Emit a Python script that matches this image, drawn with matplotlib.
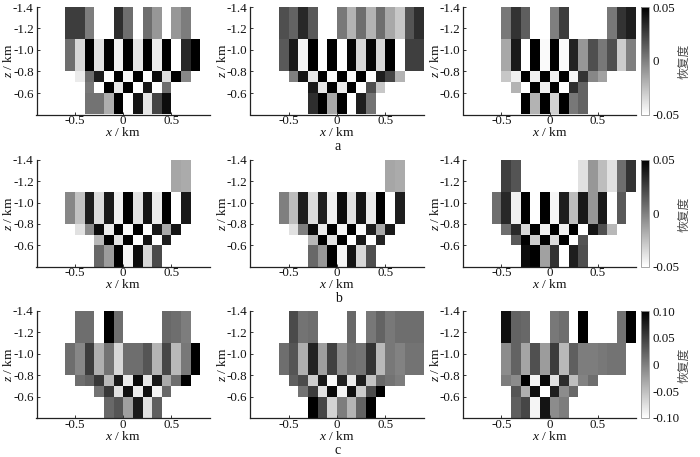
import numpy as np
import matplotlib
matplotlib.use('Agg')
import matplotlib.pyplot as plt
from matplotlib.colors import Normalize
from matplotlib.cm import ScalarMappable

plt.rcParams['font.family'] = ['Liberation Serif', 'Noto Sans CJK SC']
plt.rcParams['mathtext.fontset'] = 'custom'
plt.rcParams['mathtext.it'] = 'Liberation Serif:italic'
plt.rcParams['axes.unicode_minus'] = False

n = float('nan')
x_edges = [-.9,-.8,-.7,-.6,-.5,-.4,-.3,-.2,-.1,0,.1,.2,.3,.4,.5,.6,.7,.8,.9]
z_edges = [-1.4, -1.1, -0.8, -0.7, -0.6, -0.4]
x_ticks = [-0.5, 0, 0.5]
x_tick_labels = ['-0.5', '0', '0.5']
z_ticks = [-1.4, -1.2, -1.0, -0.8, -0.6]
z_tick_labels = ['-1.4', '-1.2', '-1.0', '-0.8', '-0.6']
captions = ['a', 'b', 'c']

# recovery values in units of 0.01
a1 = [[n,n,n,2.6,2.6,.1,n,n,3.2,.7,n,.7,-.9,n,-.9,.1,n,n],
      [n,n,n,.7,-3.4,5,-3.8,5,-4.4,5,-4,5,-4.2,5,-5,3.4,5,n],
      [n,n,n,n,-4.2,.7,3.8,-5,5,-4.7,5,-5,4.5,-3.6,5,-.3,n,n],
      [n,n,n,n,n,.3,-5,5,-4,5,-5,4,-5,.7,n,n,n,n],
      [n,n,n,n,n,.5,.5,-1.8,5,-5,4.2,-4,2.3,4.5,n,n,n,n]]
a2 = [[n,n,n,1.9,1.1,3.4,1.5,n,n,.3,-2,.7,-2,.7,-1.6,-2.8,1.7,3.2],
      [n,n,n,1.5,4,-4.6,5,-5,5,-5,4.8,-3.4,4.8,-3.4,5,-5,2.5,2.5],
      [n,n,n,n,0,4.2,-4,5,-4.8,5,-4.8,5,-5,3.8,2.3,-2,n,n],
      [n,n,n,n,n,n,4,-4,5,-4.2,5,-5,1.9,-2.8,n,n,n,n],
      [n,n,n,n,n,n,3.2,5,-1.6,5,-5,3.8,.5,n,n,n,n,n]]
a3 = [[n,n,n,n,.3,3,1.3,n,n,0,2.6,n,n,n,n,.3,3,3.8],
      [n,n,n,n,-1.6,4,-5,5,-4.8,5,-4.8,3.6,-.9,1.9,.3,1.9,-3,0],
      [n,n,n,n,-2.8,-4.4,5,-4.4,5,-4.4,5,-4.6,3,-.3,-1.3,n,n,n],
      [n,n,n,n,n,-2,-5,5,-4.4,5,-5,3.2,1.1,n,n,n,n,n],
      [n,n,n,n,n,n,5,-2,5,-3.2,5,.3,1.1,n,n,n,n,n]]
b1 = [[n,n,n,n,n,n,n,n,n,n,n,n,n,n,-1.5,-1.7,n,n],
      [n,n,n,-.3,-2.6,3.8,-3.6,4,-4.4,5,-3.8,4.2,-4.2,5,-5,4,n,n],
      [n,n,n,n,-3.8,-.5,4.5,-4.2,5,-4.8,5,-5,4,-1.6,4.2,n,n,n],
      [n,n,n,n,n,n,-2.2,5,-3.8,5,-5,4.2,-5,3.8,n,n,n,n],
      [n,n,n,n,n,n,.9,-1.1,5,-4.6,4.5,-3.4,2.1,n,n,n,n,n]]
b2 = [[n,n,n,n,n,n,n,n,n,n,n,n,n,n,-1.5,-1.7,n,n],
      [n,n,n,0,-2.4,3.8,-3.6,3.8,-4.4,4.5,-3.8,4.2,-4.2,5,-5,3.8,n,n],
      [n,n,n,n,-3.8,0,4.5,-4.2,5,-4.6,5,-4.8,3.8,-1.6,4,n,n,n],
      [n,n,n,n,n,n,-2.2,5,-3.8,5,-5,4,-5,3.6,n,n,n,n],
      [n,n,n,n,n,n,.9,-.9,5,-4.6,4.2,-3.4,1.9,n,n,n,n,n]]
b3 = [[n,n,n,n,2.5,1.7,n,n,n,n,n,n,-3.8,-.9,-2.4,-3.8,.7,3],
      [n,n,n,.7,3.4,-4.4,5,-5,5,-4.6,3.8,-2.4,4,-.9,4,-5,1.5,n],
      [n,n,n,n,.7,3.4,-3.4,5,-4.4,5,-4.4,5,-5,4.2,1.9,-2.2,n,n],
      [n,n,n,n,n,1.5,5,-3,5,-3.6,5,-5,1.7,n,n,n,n,n],
      [n,n,n,n,n,n,4.5,5,-1.3,3,-5,3.8,1.9,n,n,n,n,n]]
c1 = [[n,n,n,n,1.4,1.4,n,10,1.4,n,n,n,n,1.8,1.4,.2,n,n],
      [n,n,n,1.4,-.6,5.3,-3.7,1,-6.9,1.4,1.4,3.3,-4.1,4.5,-4.5,.6,10,n],
      [n,n,n,n,1.4,2.2,5.7,-4.5,8,-8.4,9.2,-8,8,-3.3,1.4,10,n,n],
      [n,n,n,n,n,n,1,5.7,-7.6,8.8,-8.4,8.8,-9.2,1.8,n,n,n,n],
      [n,n,n,n,n,n,n,1.8,3.3,-2.5,8,-7.6,2.5,n,n,n,n,n]]
c2 = [[n,n,n,n,4.1,1,1.4,n,n,n,1.8,n,.6,2.2,.6,1.4,1.4,1.4],
      [n,n,n,1.4,3.3,-3.7,7.3,-2.5,4.9,-1,1.4,1,6,-4.5,.6,-.2,1,1],
      [n,n,n,n,2.5,4.1,-6,8,-9.6,7.3,-8.4,7.6,-5.3,1.8,1,.2,n,n],
      [n,n,n,n,n,1,5.3,-7.6,9.2,-9.2,8.8,-6,4.1,10,n,n,n,n],
      [n,n,n,n,n,n,10,4.5,-6.5,.2,-4.1,2.2,10,n,n,n,n,n]]
c3 = [[n,n,n,n,8.8,2.2,1.8,n,n,.6,1.4,n,10,n,n,n,1,10],
      [n,n,n,n,-1,2.2,-2.9,3.7,-2.2,5.3,-4.5,2.5,.2,.2,.6,1,1,n],
      [n,n,n,n,.2,-1,10,-9.2,9.2,-7.6,6.5,-4.9,-.2,1.4,n,n,n,n],
      [n,n,n,n,n,3.3,-3.7,8.8,-10,7.6,-1,1.8,n,n,n,n,n,n],
      [n,n,n,n,n,2.5,4.5,-9.2,8.4,-1,.2,n,n,n,n,n,n,n]]

panels = [[a1, a2, a3], [b1, b2, b3], [c1, c2, c3]]
limits = [5, 5, 10]
cbar_ticks = [[-5, 0, 5], [-5, 0, 5], [-10, -5, 0, 5, 10]]
cbar_labels = [['-0.05', '0', '0.05'], ['-0.05', '0', '0.05'],
               ['-0.10', '-0.05', '0', '0.05', '0.10']]

W, H = 700, 457
fig = plt.figure(figsize=(W / 100, H / 100), dpi=100)
col_px = [(36.5, 210), (250, 424), (463, 636)]
row_px = [(7, 114.5), (160, 266.5), (311, 418)]
FS = 9.4


def box(x0, x1, y0, y1):
    return [x0 / W, 1 - y1 / H, (x1 - x0) / W, (y1 - y0) / H]


for r, (y0, y1) in enumerate(row_px):
    norm = Normalize(-limits[r], limits[r])
    for c, (x0, x1) in enumerate(col_px):
        ax = fig.add_axes(box(x0, x1, y0, y1))
        ax.pcolormesh(x_edges, z_edges, np.ma.masked_invalid(np.array(panels[r][c])),
                      cmap='gray_r', norm=norm, edgecolors='none')
        ax.set_xlim(-0.9, 0.9)
        ax.set_ylim(-0.4, -1.4)
        for s in ('top', 'right'):
            ax.spines[s].set_visible(False)
        for s in ('left', 'bottom'):
            ax.spines[s].set_linewidth(0.9)
            ax.spines[s].set_color('#222222')
        ax.set_xticks(x_ticks, x_tick_labels, fontsize=FS)
        ax.set_yticks(z_ticks, z_tick_labels, fontsize=FS)
        ax.tick_params(axis='both', direction='in', length=2.5, width=0.7, color='#333333',
                       labelcolor='#111111')
        ax.tick_params(axis='x', pad=0.5)
        ax.tick_params(axis='y', pad=2)
        ax.set_xlabel('$x$ / km', fontsize=FS + 0.3, color='#111111', va='center')
        ax.set_ylabel('$z$ / km', fontsize=FS + 0.3, color='#111111', va='center')
        ax.xaxis.set_label_coords(0.5, -18.5 / (y1 - y0))
        ax.yaxis.set_label_coords(-28 / (x1 - x0), 0.5)
    cax = fig.add_axes(box(640.5, 649, y0, y1))
    cb = fig.colorbar(ScalarMappable(norm=norm, cmap='gray_r'), cax=cax)
    cb.set_ticks(cbar_ticks[r], labels=cbar_labels[r], fontsize=FS)
    cb.ax.tick_params(length=0, pad=2.5, labelcolor='#111111')
    cb.outline.set_linewidth(0.6)
    cb.outline.set_edgecolor('#999999')
    fig.text(684 / W, 1 - ((y0 + y1) / 2 + 1) / H, '恢复度', rotation=90, ha='center', va='center',
             fontsize=8.5, color='#444444', family='Noto Sans CJK SC')
    fig.text(338 / W, 1 - (y1 + 32.5) / H, captions[r], ha='center', va='center',
             fontsize=FS + 0.6, color='#111111')

fig.savefig('out.png', dpi=100)
